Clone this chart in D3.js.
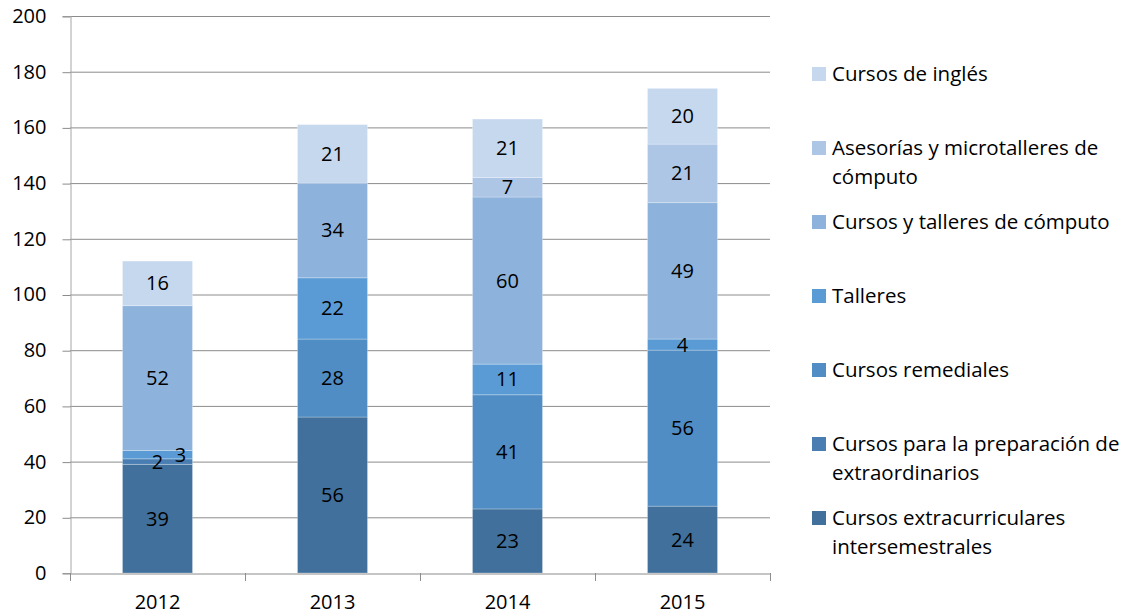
<!DOCTYPE html>
<html><head><meta charset="utf-8">
<script src="https://cdn.jsdelivr.net/npm/d3@7"></script>
<style>
body{margin:0;background:#fff;}
text{font-family:"Open Sans",sans-serif;fill:#000;}
</style></head>
<body>
<svg id="chart" width="1125" height="615"></svg>
<script>
const years = ["2012","2013","2014","2015"];
const seriesNames = [
  "Cursos extracurriculares intersemestrales",
  "Cursos para la preparación de extraordinarios",
  "Cursos remediales",
  "Talleres",
  "Cursos y talleres de cómputo",
  "Asesorías y microtalleres de cómputo",
  "Cursos de inglés"
];
const extracurriculares = [39,56,23,24];
const preparacion = [2,0,0,0];
const remediales = [0,28,41,56];
const talleres = [3,22,11,4];
const computo = [52,34,60,49];
const asesorias = [0,0,7,21];
const ingles = [16,21,21,20];
const yTicks = [0,20,40,60,80,100,120,140,160,180,200];
const legendLines = [
  ["Cursos extracurriculares","intersemestrales"],
  ["Cursos para la preparación de","extraordinarios"],
  ["Cursos remediales"],
  ["Talleres"],
  ["Cursos y talleres de cómputo"],
  ["Asesorías y microtalleres de","cómputo"],
  ["Cursos de inglés"]
];
const colors = ["#41709C","#4A7EB2","#508DC4","#5B9BD5","#8DB3DD","#ADC6E6","#C6D8EE"];

const values = [extracurriculares,preparacion,remediales,talleres,computo,asesorias,ingles];
const table = years.map((y,i)=>{const o={year:y}; seriesNames.forEach((s,k)=>o[s]=values[k][i]); return o;});
const stacked = d3.stack().keys(seriesNames)(table);

const svg = d3.select("#chart");
const L=70,R=770,T=16,B=573;
const FS = "20px";
const x = d3.scaleBand().domain(years).range([L,R]).paddingInner(0.6).paddingOuter(0.3);
const y = d3.scaleLinear().domain([0,200]).range([B,T]);

// gridlines
svg.append("g").selectAll("line").data(yTicks.filter(t=>t>0)).join("line")
  .attr("x1",L).attr("x2",R).attr("y1",d=>y(d)+0.5).attr("y2",d=>y(d)+0.5)
  .attr("stroke","#8C8C8C").attr("stroke-width",1);

// y axis
const yAxis = svg.append("g").attr("transform",`translate(${L+0.5},0)`)
  .call(d3.axisLeft(y).tickValues(yTicks).tickSize(8).tickPadding(16));
yAxis.select(".domain").attr("stroke","#A6A6A6");
yAxis.selectAll(".tick line").attr("stroke","#8C8C8C").attr("transform","translate(0,0.5)");
yAxis.selectAll("text").style("font-size",FS).style("font-family","'Open Sans',sans-serif").attr("fill","#000");

// bars
const layers = svg.append("g").selectAll("g").data(stacked).join("g").attr("fill",(d,i)=>colors[i]);
layers.selectAll("rect").data(d=>d.map(v=>({v,key:d.key}))).join("rect")
  .attr("x",d=>x(d.v.data.year)).attr("width",x.bandwidth())
  .attr("y",d=>y(d.v[1])).attr("height",d=>y(d.v[0])-y(d.v[1]))
  .attr("stroke","rgba(255,255,255,0.25)").attr("stroke-width",1);

// x axis
const xAxis = svg.append("g").attr("transform",`translate(0,${B+0.5})`)
  .call(d3.axisBottom(x).tickSize(0).tickPadding(21));
xAxis.select(".domain").attr("stroke","#8C8C8C");
xAxis.selectAll("text").style("font-size",FS).style("font-family","'Open Sans',sans-serif").attr("fill","#000");
const xTickPos = years.map(yr=>x(yr)-x.step()*x.paddingInner()/2).concat([R]);
svg.append("g").selectAll("line").data(xTickPos).join("line")
  .attr("x1",d=>Math.round(d)+0.5).attr("x2",d=>Math.round(d)+0.5).attr("y1",B).attr("y2",B+8)
  .attr("stroke","#8C8C8C");

// labels
const labelG = svg.append("g");
stacked.forEach((layer,k)=>{
  layer.forEach((v,i)=>{
    const val = v[1]-v[0];
    if(val<=0) return;
    let dx = 0;
    // small adjacent segments in 2012 are offset by the original chart
    if(years[i]==="2012" && seriesNames[k]==="Talleres") dx = 23;
    labelG.append("text")
      .attr("x",x(v.data.year)+x.bandwidth()/2+dx)
      .attr("y",y((v[0]+v[1])/2))
      .attr("dy","0.35em").attr("text-anchor","middle")
      .style("font-size",FS).text(val);
  });
});

// legend
const legendY = [518,444,370,296,222,148,74];
const lg = svg.append("g");
seriesNames.forEach((s,k)=>{
  lg.append("rect").attr("x",812).attr("y",legendY[k]-7).attr("width",14).attr("height",14).attr("fill",colors[k]);
  legendLines[k].forEach((ln,j)=>{
    lg.append("text").attr("x",832).attr("y",legendY[k]+j*29).attr("dy","0.35em")
      .style("font-size","20.5px").text(ln);
  });
});
</script>
</body></html>
